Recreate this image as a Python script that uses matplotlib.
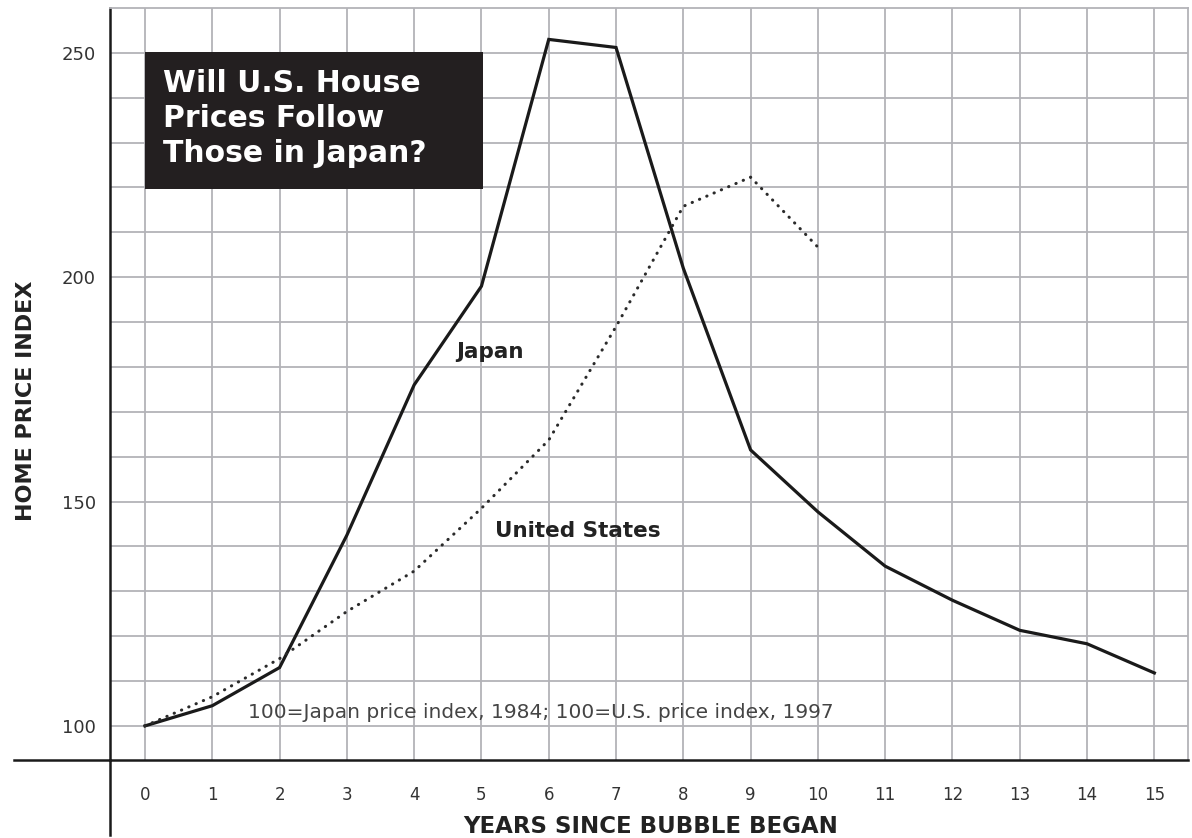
import numpy as np
import matplotlib
matplotlib.use("Agg")
import matplotlib.pyplot as plt
from matplotlib.patches import Rectangle
from matplotlib.lines import Line2D

# Data
years = list(range(16))
japan = [100, 104.5, 113, 142.5, 176, 198, 253, 251.2, 202, 161.5, 147.7, 135.6, 128, 121.3, 118.3, 111.8]
us_years = list(range(11))
us = [100, 106.5, 115, 125.5, 134.5, 148.5, 163.7, 189, 215.8, 222.3, 206.7]
y_ticks = [100, 150, 200, 250]

fig = plt.figure(figsize=(11.92, 8.38), dpi=100)
ax = fig.add_axes([110 / 1192, 1 - 760 / 838, 1078 / 1192, 752 / 838])
ax.set_xlim(-0.52, 15.5)
ax.set_ylim(92.4, 260)

grid_col = "#b3b3b8"
# grid lines
ax.set_xticks(years)
ax.set_yticks(y_ticks)
ax.set_yticks(np.arange(100, 260, 10), minor=True)
ax.set_xticklabels([str(y) for y in years], fontsize=12, color="#333333")
ax.set_yticklabels([str(v) for v in y_ticks], fontsize=13, color="#333333")
ax.tick_params(axis="both", which="both", length=0)
ax.tick_params(axis="x", pad=19)
ax.tick_params(axis="y", pad=10)
ax.grid(True, which="both", color=grid_col, linewidth=1.3)
ax.set_axisbelow(True)

for side in ["top", "right"]:
    ax.spines[side].set_color(grid_col)
    ax.spines[side].set_linewidth(1.3)
for side in ["left", "bottom"]:
    ax.spines[side].set_color("#1a1a1a")
    ax.spines[side].set_linewidth(1.8)

# extend the axis lines past their crossing point
fig.add_artist(Line2D([110 / 1192, 110 / 1192], [1 - 760 / 838, 1 - 835 / 838],
                      transform=fig.transFigure, color="#1a1a1a", lw=1.8))
fig.add_artist(Line2D([14 / 1192, 110 / 1192], [1 - 760 / 838, 1 - 760 / 838],
                      transform=fig.transFigure, color="#1a1a1a", lw=1.8))

# series
ax.plot(years, japan, color="#1a1a1a", lw=2.3, solid_joinstyle="miter", zorder=4)
ax.plot(us_years, us, color="#2a2a2a", lw=2.2, linestyle=(0, (0.1, 2.5)),
        dash_capstyle="round", zorder=4)

# title box
ax.add_patch(Rectangle((0, 219.6), 5.02, 30.5, facecolor="#231f20", edgecolor="none", zorder=5))
ax.text(0.27, 246.3, "Will U.S. House\nPrices Follow\nThose in Japan?", color="white",
        fontsize=21.5, fontweight="heavy", va="top", ha="left", linespacing=1.25, zorder=6)

# labels
ax.text(5.13, 183.3, "Japan", fontsize=15.5, fontweight="heavy", color="#222222",
        ha="center", va="center", zorder=6)
ax.text(6.43, 143.4, "United States", fontsize=15.5, fontweight="heavy", color="#222222",
        ha="center", va="center", zorder=6)
ax.text(1.53, 103.0, "100=Japan price index, 1984; 100=U.S. price index, 1997",
        fontsize=14.5, color="#444444", ha="left", va="center", zorder=6)

fig.text(651 / 1192, 1 - 826 / 838, "YEARS SINCE BUBBLE BEGAN", fontsize=16.5,
         fontweight="heavy", color="#222222", ha="center", va="center")
fig.text(26 / 1192, 1 - 401 / 838, "HOME PRICE INDEX", fontsize=16, rotation=90,
         fontweight="heavy", color="#222222", ha="center", va="center")

fig.savefig("out.png", dpi=100, facecolor="white")
